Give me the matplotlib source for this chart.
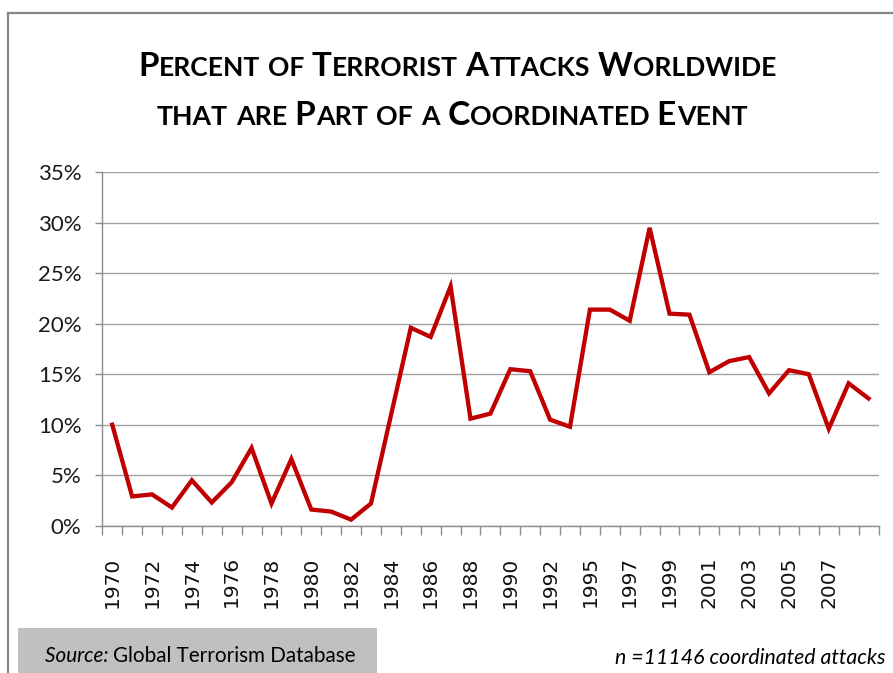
import matplotlib
matplotlib.use('Agg')
import matplotlib.pyplot as plt
from matplotlib.lines import Line2D
from matplotlib.patches import Rectangle
from matplotlib.ticker import PercentFormatter
import numpy as np

# data: 1993 is missing from the database
years = list(range(1970, 1993)) + list(range(1994, 2010))
pct = [10.0, 2.9, 3.1, 1.8, 4.5, 2.3, 4.3, 7.7, 2.2, 6.6,
       1.6, 1.4, 0.6, 2.2, 10.9, 19.6, 18.7, 23.7, 10.6, 11.1,
       15.5, 15.3, 10.5, 9.8, 21.4, 21.4, 20.3, 29.5, 21.0, 20.9,
       15.2, 16.3, 16.7, 13.1, 15.4, 15.0, 9.6, 14.1, 12.6]
y_ticks = [0, 5, 10, 15, 20, 25, 30, 35]

title1 = 'Percent of Terrorist Attacks Worldwide'
title2 = 'that are Part of a Coordinated Event'
source_label = 'Source: '
source_name = 'Global Terrorism Database'
n_note = 'n =11146 coordinated attacks'

W, H = 893, 673
fig = plt.figure(figsize=(W / 100, H / 100), dpi=100)
fig.patch.set_facecolor('white')

grey = '#8c8c8c'
narrow = ['Liberation Sans Narrow', 'Lato']

ax = fig.add_axes([102.3 / W, 1 - 525.7 / H, 776.2 / W, 353.4 / H])
x = np.arange(len(years))
ax.plot(x, pct, color='#c00000', lw=3.1, solid_joinstyle='miter', zorder=3)

ax.set_xlim(-0.5, len(years) - 0.5)
ax.set_ylim(0, 35)
ax.set_yticks(y_ticks)
ax.yaxis.set_major_formatter(PercentFormatter(xmax=100, decimals=0))
ax.grid(axis='y', color='#9f9f9f', lw=1.0)
ax.set_axisbelow(True)

lab_idx = list(range(0, len(years) - 1, 2))
ax.set_xticks(lab_idx)
ax.set_xticklabels([str(years[i]) for i in lab_idx], rotation=90,
                   fontfamily='DejaVu Sans', fontsize=14.5, color='#111111')
ax.set_xticks(np.arange(-0.5, len(years), 1), minor=True)
ax.tick_params(axis='x', which='major', length=0, pad=22)
ax.tick_params(axis='x', which='minor', length=6.8, color=grey, width=1)
ax.tick_params(axis='y', length=5, color=grey, width=1, pad=10)
for lab in ax.get_yticklabels():
    lab.set_fontfamily('Lato')
    lab.set_fontsize(16)
    lab.set_color('#1a1a1a')

for s in ['top', 'right']:
    ax.spines[s].set_visible(False)
for s in ['left', 'bottom']:
    ax.spines[s].set_color(grey)
    ax.spines[s].set_linewidth(1.0)

# chart frame (runs off the right and bottom edges)
fig.add_artist(Line2D([8 / W, 8 / W], [1 - 13 / H, -0.1], color='#878787', lw=1.6))
fig.add_artist(Line2D([8 / W, 1.1], [1 - 13 / H, 1 - 13 / H], color='#878787', lw=1.6))

renderer = fig.canvas.get_renderer()


def adv(t, size, **kw):
    a = fig.text(0, 0, '|' + t + '|', fontsize=size, **kw)
    b = fig.text(0, 0, '||', fontsize=size, **kw)
    w = a.get_window_extent(renderer).width - b.get_window_extent(renderer).width
    a.remove()
    b.remove()
    return w


def place_runs(runs, xpos, ybase, width, size, ha='center', **kw):
    ws = [adv(t, size * sc, **kw, **ex) for t, sc, ex in runs]
    size = size * width / sum(ws)
    ws = [adv(t, size * sc, **kw, **ex) for t, sc, ex in runs]
    xx = xpos - sum(ws) / 2 if ha == 'center' else xpos
    for (t, sc, ex), w in zip(runs, ws):
        fig.text(xx / W, 1 - ybase / H, t, fontsize=size * sc,
                 ha='left', va='baseline', **kw, **ex)
        xx += w


def small_caps(s, ratio=0.8):
    runs = []
    for ch in s:
        big = not ch.islower()
        if runs and runs[-1][1] == big:
            runs[-1][0] += ch
        else:
            runs.append([ch, big])
    return [(t.upper(), 1.0 if big else ratio, {}) for t, big in runs]


place_runs(small_caps(title1), 457, 76, 638, 26, fontfamily=narrow, fontweight='bold', color='black')
place_runs(small_caps(title2), 452, 125, 590, 26, fontfamily=narrow, fontweight='bold', color='black')

# source box
fig.add_artist(Rectangle((18.3 / W, 0), (376.7 - 18.3) / W, 1 - 628.3 / H,
                         facecolor='#c0c0c0', edgecolor='none'))
place_runs([(source_label, 1.0, {'fontstyle': 'italic'}), (source_name, 1.0, {})],
           45, 662, 313, 14, ha='left', fontfamily=narrow, color='black')
place_runs([(n_note, 1.0, {})], 615, 664, 272, 14, ha='left',
           fontfamily=narrow, fontstyle='italic', color='black')

fig.savefig('out.png', dpi=100)
